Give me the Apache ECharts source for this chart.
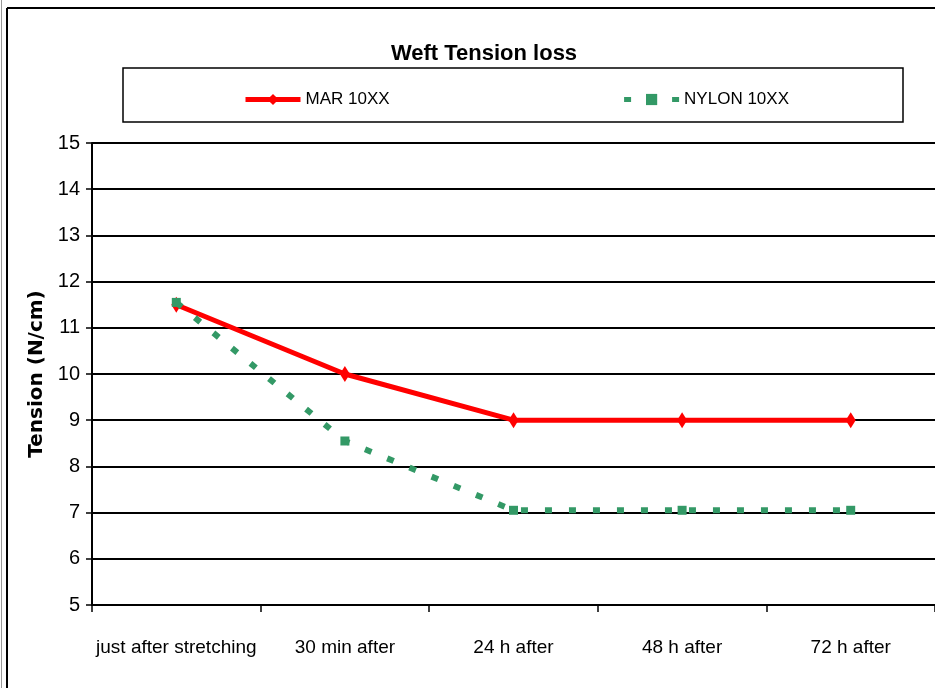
<!DOCTYPE html>
<html>
<head>
<meta charset="utf-8">
<script src="https://cdn.jsdelivr.net/npm/echarts@6/dist/echarts.min.js"></script>
<style>
  html, body { margin: 0; padding: 0; background: #fff; }
  #chart { width: 935px; height: 688px; }
</style>
</head>
<body>
<div id="chart"></div>
<script>
var categories = ['just after stretching', '30 min after', '24 h after', '48 h after', '72 h after'];
var marValues = [11.5, 10, 9, 9, 9];
var nylonValues = [11.55, 8.55, 7.05, 7.05, 7.05];
var yTicks = [5, 15, 1]; // min, max, interval

var narrow = '"Liberation Sans Narrow", "Liberation Sans", Arial, sans-serif';

var chart = echarts.init(document.getElementById('chart'));
chart.setOption({
    animation: false,
    title: {
        text: 'Weft Tension loss',
        left: 479, textAlign: 'center', top: 38,
        textStyle: { fontFamily: narrow, fontSize: 22, fontWeight: 'bold', color: '#000' }
    },
    legend: {
        left: 238, top: 86,
        itemWidth: 55, itemHeight: 14, itemGap: 232,
        textStyle: { fontFamily: narrow, fontSize: 17, color: '#000' },
        lineStyle: { width: 5 },
        data: ['MAR 10XX', 'NYLON 10XX']
    },
    graphic: [
        // outer chart frame
        { type: 'line', shape: { x1: 7, y1: 8, x2: 935, y2: 8 }, style: { stroke: '#000', lineWidth: 2 } },
        { type: 'line', shape: { x1: 7, y1: 8, x2: 7, y2: 688 }, style: { stroke: '#000', lineWidth: 2 } },
        { type: 'line', shape: { x1: 1.5, y1: 0, x2: 1.5, y2: 688 }, style: { stroke: '#999', lineWidth: 1 } },
        // legend box
        { type: 'rect', shape: { x: 123, y: 68, width: 780, height: 54 }, style: { fill: 'none', stroke: '#000', lineWidth: 1.5 } }
    ],
    grid: { left: 92, top: 143, width: 845, height: 462, containLabel: false },
    xAxis: {
        type: 'category',
        data: categories,
        boundaryGap: true,
        axisLine: { lineStyle: { color: '#000', width: 2 } },
        axisTick: { show: true, length: 7, interval: 0, lineStyle: { color: '#000', width: 1.5 } },
        axisLabel: { fontFamily: narrow, fontSize: 19, color: '#000', margin: 33, interval: 0 }
    },
    yAxis: {
        type: 'value',
        min: yTicks[0], max: yTicks[1], interval: yTicks[2],
        name: 'Tension (N/cm)',
        nameLocation: 'middle', nameGap: 42,
        nameTextStyle: { fontFamily: '"DejaVu Sans", Verdana, sans-serif', fontSize: 20, fontWeight: 'bold', color: '#000' },
        axisLine: { show: true, lineStyle: { color: '#000', width: 2 } },
        axisTick: { show: true, length: 6, lineStyle: { color: '#000', width: 1.5 } },
        axisLabel: { fontFamily: narrow, fontSize: 20, color: '#000', margin: 12 },
        splitLine: { lineStyle: { color: '#000', width: 2 } }
    },
    series: [
        {
            name: 'MAR 10XX', type: 'line', data: marValues,
            symbol: 'diamond', symbolSize: [10, 16],
            lineStyle: { color: '#ff0000', width: 5 },
            itemStyle: { color: '#ff0000' },
            z: 3
        },
        {
            name: 'NYLON 10XX', type: 'line', data: nylonValues,
            symbol: 'rect', symbolSize: 9,
            lineStyle: { color: '#339966', width: 6, type: [7, 17], cap: 'butt' },
            itemStyle: { color: '#339966' },
            z: 4
        }
    ]
});
</script>
</body>
</html>
